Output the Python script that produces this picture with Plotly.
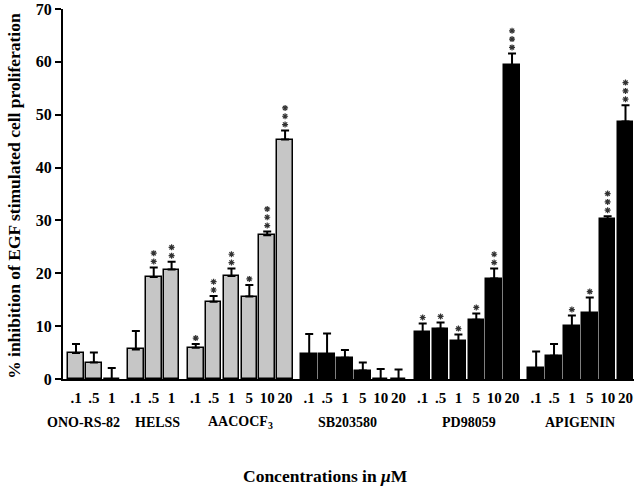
import plotly.graph_objects as go

# ---- data ----
groups = ["ONO-RS-82", "HELSS", "AACOCF<sub>3</sub>", "SB203580", "PD98059", "APIGENIN"]
conc = [
    [".1", ".5", "1"],
    [".1", ".5", "1"],
    [".1", ".5", "1", "5", "10", "20"],
    [".1", ".5", "1", "5", "10", "20"],
    [".1", ".5", "1", "5", "10", "20"],
    [".1", ".5", "1", "5", "10", "20"],
]
values = [
    [4.9, 3.1, 0.0],
    [5.6, 19.3, 20.7],
    [5.9, 14.6, 19.5, 15.6, 27.2, 45.3],
    [4.7, 4.7, 4.0, 1.6, 0.0, 0.0],
    [8.8, 9.5, 7.2, 11.2, 19.0, 59.4],
    [2.1, 4.4, 10.0, 12.4, 30.2, 48.7],
]
errors = [
    [1.7, 1.9, 2.1],
    [3.5, 1.8, 1.5],
    [0.7, 1.1, 1.4, 2.2, 0.7, 1.7],
    [3.8, 3.9, 1.5, 1.5, 1.9, 1.8],
    [1.7, 1.2, 1.2, 1.2, 1.9, 2.2],
    [3.1, 2.2, 2.0, 3.0, 0.6, 3.1],
]
stars = [
    [0, 0, 0],
    [0, 2, 2],
    [1, 2, 2, 1, 3, 3],
    [0, 0, 0, 0, 0, 0],
    [1, 1, 1, 1, 2, 3],
    [0, 0, 1, 1, 3, 3],
]
fills = ["#c6c6c6", "#c6c6c6", "#c6c6c6", "#000000", "#000000", "#000000"]
y_ticks = [0, 10, 20, 30, 40, 50, 60, 70]

# ---- layout constants ----
W, H = 640, 489
ML, MR, MT, MB = 63, 6, 9, 110
GROUP_GAP = 0.35          # extra slot spacing between groups
SLOT_PX = 17.87
FIRST_PX = 13             # first bar centre offset from the y axis (px)
LABEL_SHIFT = [-10, 3.5, 0, -6, 1.5, -1]   # px nudges of group labels
Y_MAX = 70
plot_w = W - ML - MR
plot_h = H - MT - MB
px_per_unit = plot_h / Y_MAX
x_min = -FIRST_PX / SLOT_PX
x_max = x_min + plot_w / SLOT_PX

FONT = "Liberation Serif, Times New Roman, serif"

fig = go.Figure()

tickvals, ticktext = [], []
star_x, star_y = [], []
idx = 0
group_centers = []
for g, name in enumerate(groups):
    xs = []
    for j, c in enumerate(conc[g]):
        xs.append(idx + GROUP_GAP * g)
        idx += 1
    group_centers.append(sum(xs) / len(xs))
    tickvals += xs
    ticktext += ["<b>%s</b>" % c for c in conc[g]]
    fig.add_trace(go.Bar(
        x=xs, y=values[g], width=0.87,
        marker=dict(color=fills[g], line=dict(color="black", width=1.5)),
        error_y=dict(type="data", symmetric=False, array=errors[g],
                     arrayminus=[0] * len(xs), color="black", thickness=2, width=4),
        showlegend=False, hoverinfo="skip",
    ))
    for x, v, e, n in zip(xs, values[g], errors[g], stars[g]):
        for k in range(n):
            star_x.append(x)
            star_y.append(v + e + (6 + 8.3 * k) / px_per_unit)

fig.add_trace(go.Scatter(
    x=star_x, y=star_y, mode="markers",
    marker=dict(symbol="asterisk-open", size=5, color="#333",
                line=dict(color="#333", width=1.2)),
    showlegend=False, hoverinfo="skip",
))

for name, cx, sh in zip(groups, group_centers, LABEL_SHIFT):
    fig.add_annotation(
        x=cx, y=0, xref="x", yref="paper", text="<b>%s</b>" % name,
        showarrow=False, yanchor="middle", yshift=-43, xshift=sh,
        font=dict(family=FONT, size=14, color="black"),
    )

fig.add_annotation(
    x=0.5, y=0, xref="paper", yref="paper",
    text="<b>Concentrations in <i>\u03bc</i>M</b>",
    showarrow=False, yanchor="middle", yshift=-97, xshift=-23,
    font=dict(family=FONT, size=17.5, color="black"),
)
fig.add_annotation(
    x=0, y=0.495, xref="paper", yref="paper",
    text="<b>% inhibition of EGF stimulated cell proliferation</b>",
    textangle=-90, showarrow=False, xanchor="center", yanchor="middle", xshift=-49,
    font=dict(family=FONT, size=17.5, color="black"),
)

fig.update_layout(
    width=W, height=H,
    margin=dict(l=ML, r=MR, t=MT, b=MB),
    paper_bgcolor="white", plot_bgcolor="white",
    barmode="overlay", bargap=0,
    xaxis=dict(range=[x_min, x_max], tickvals=tickvals, ticktext=ticktext,
               automargin=False, ticklabelstandoff=4, tickangle=0,
               showgrid=False, zeroline=False, showline=True, linecolor="black",
               linewidth=2, ticks="", tickfont=dict(family=FONT, size=15, color="black")),
    yaxis=dict(range=[0, Y_MAX], tickvals=y_ticks,
               ticktext=["<b>%d</b>" % t for t in y_ticks], automargin=False,
               showgrid=False, zeroline=False,
               showline=True, linecolor="black", linewidth=2, ticks="outside",
               ticklen=6, tickwidth=2, tickcolor="black",
               tickfont=dict(family=FONT, size=16, color="black")),
    font=dict(family=FONT),
)

fig.write_html("out.html", config={"displayModeBar": False},
               post_script="document.body.style.margin='0';document.body.style.padding='0';")
